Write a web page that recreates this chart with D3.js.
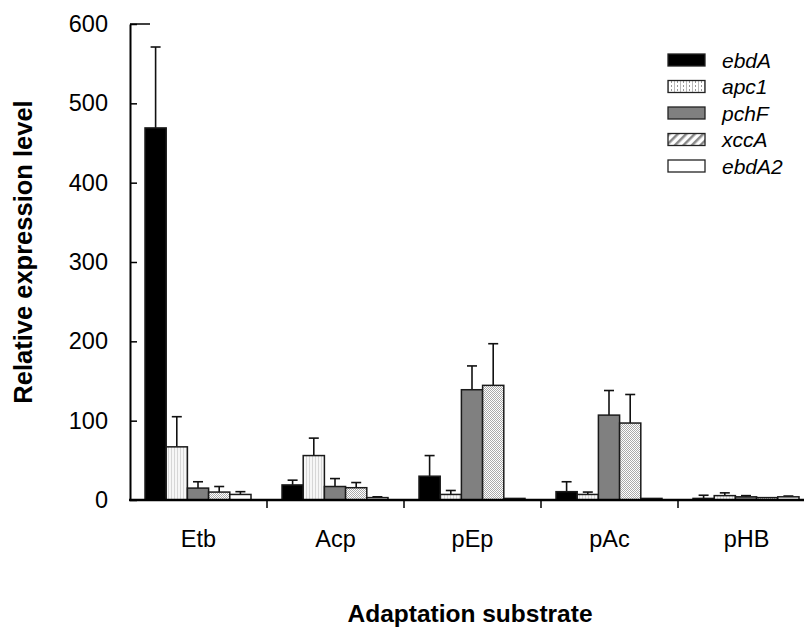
<!DOCTYPE html>
<html>
<head>
<meta charset="utf-8">
<script src="https://cdn.jsdelivr.net/npm/d3@7"></script>
<style>
  body { margin: 0; background: #fff; }
  svg { display: block; font-family: "Liberation Sans", Arial, sans-serif; }
</style>
</head>
<body>
<div id="bar_chart"></div>
<script>
var categories = ["Etb", "Acp", "pEp", "pAc", "pHB"];
var series = ["ebdA", "apc1", "pchF", "xccA", "ebdA2"];

// mean values per series, one entry per category
var ebdA  = [469, 19, 30, 10.5, 2];
var apc1  = [67, 56, 7, 7, 5.5];
var pchF  = [15, 17, 139, 107, 4];
var xccA  = [10, 15.5, 144.5, 97, 3];
var ebdA2 = [7, 3, 2, 2, 4];

// upper error (top of whisker)
var ebdAErr  = [571, 25, 56, 23, 6];
var apc1Err  = [105, 78, 12, 10, 9];
var pchFErr  = [23, 27, 169, 138, 5.5];
var xccAErr  = [17, 22, 197, 133, 3];
var ebdA2Err = [10.5, 4, 2, 2, 5];

var yTicks = [0, 100, 200, 300, 400, 500, 600];

document.addEventListener('DOMContentLoaded', function() {
    generateBarChart()
}, false);

function generateBarChart() {
    var width = 804, height = 628;
    var values = [ebdA, apc1, pchF, xccA, ebdA2];
    var errs = [ebdAErr, apc1Err, pchFErr, xccAErr, ebdA2Err];

    var data = [];
    categories.forEach(function(c, i) {
        series.forEach(function(s, j) {
            data.push({cat: c, key: s, value: values[j][i], err: errs[j][i]});
        });
    });

    var svg = d3.select("#bar_chart")
      .append("svg")
        .attr("width", width)
        .attr("height", height);

    // patterns
    var defs = svg.append("defs");
    var p1 = defs.append("pattern").attr("id", "vlines")
        .attr("patternUnits", "userSpaceOnUse").attr("width", 3).attr("height", 3);
    p1.append("rect").attr("width", 3).attr("height", 3).attr("fill", "#f6f6f6");
    p1.append("rect").attr("width", 1).attr("height", 3).attr("fill", "#d6d6d6");

    var p2 = defs.append("pattern").attr("id", "checker")
        .attr("patternUnits", "userSpaceOnUse").attr("width", 2).attr("height", 2);
    p2.append("rect").attr("width", 2).attr("height", 2).attr("fill", "#ffffff");
    p2.append("rect").attr("width", 1).attr("height", 1).attr("fill", "#aaaaaa");
    p2.append("rect").attr("x", 1).attr("y", 1).attr("width", 1).attr("height", 1).attr("fill", "#aaaaaa");

    var p3 = defs.append("pattern").attr("id", "dots")
        .attr("patternUnits", "userSpaceOnUse").attr("width", 6).attr("height", 4);
    p3.append("rect").attr("width", 6).attr("height", 4).attr("fill", "#ffffff");
    p3.append("rect").attr("x", 0).attr("width", 1).attr("height", 4).attr("fill", "#bbbbbb");
    p3.append("rect").attr("x", 3).attr("y", 1).attr("width", 1).attr("height", 1).attr("fill", "#333");

    var p4 = defs.append("pattern").attr("id", "hatch")
        .attr("patternUnits", "userSpaceOnUse").attr("width", 6).attr("height", 6)
        .attr("patternTransform", "rotate(45)");
    p4.append("rect").attr("width", 6).attr("height", 6).attr("fill", "#ffffff");
    p4.append("rect").attr("width", 2.5).attr("height", 6).attr("fill", "#888888");

    var barFill = {ebdA: "#000000", apc1: "url(#vlines)", pchF: "#808080", xccA: "url(#checker)", ebdA2: "#ffffff"};
    var legendFill = {ebdA: "#000000", apc1: "url(#dots)", pchF: "#808080", xccA: "url(#hatch)", ebdA2: "#ffffff"};

    // scales
    var x0 = d3.scaleBand().domain(categories).range([130, 815]);
    var x1 = d3.scaleBand().domain(series).range([15, 121]);
    var y = d3.scaleLinear().domain([0, 600]).range([500, 24]);

    // error bars (upper only)
    var eb = svg.append("g").selectAll("g.err")
      .data(data.filter(function(d) { return d.err > d.value; }))
      .enter().append("g")
        .attr("stroke", "#111").attr("stroke-width", 1.6);
    eb.append("line")
        .attr("x1", function(d) { return x0(d.cat) + x1(d.key) + x1.bandwidth() / 2; })
        .attr("x2", function(d) { return x0(d.cat) + x1(d.key) + x1.bandwidth() / 2; })
        .attr("y1", function(d) { return y(d.value); })
        .attr("y2", function(d) { return y(d.err); });
    eb.append("line")
        .attr("x1", function(d) { return x0(d.cat) + x1(d.key) + x1.bandwidth() / 2 - 5; })
        .attr("x2", function(d) { return x0(d.cat) + x1(d.key) + x1.bandwidth() / 2 + 5; })
        .attr("y1", function(d) { return y(d.err); })
        .attr("y2", function(d) { return y(d.err); });

    // bars
    svg.append("g").selectAll("rect")
      .data(data)
      .enter()
      .append("rect")
        .attr("x", function(d) { return x0(d.cat) + x1(d.key); })
        .attr("y", function(d) { return y(d.value); })
        .attr("width", x1.bandwidth())
        .attr("height", function(d) { return y(0) - y(d.value); })
        .attr("fill", function(d) { return barFill[d.key]; })
        .attr("stroke", "#1a1a1a")
        .attr("stroke-width", 1.5);

    // y axis, ticks pointing inward
    var yAxis = svg.append("g")
      .attr("transform", "translate(130,0)")
      .call(d3.axisLeft(y).tickValues(yTicks).tickSizeInner(-7).tickSizeOuter(0).tickPadding(22));
    yAxis.select(".domain").attr("stroke", "#000").attr("stroke-width", 2);
    yAxis.selectAll(".tick line").attr("stroke", "#000").attr("stroke-width", 1.5);
    yAxis.selectAll(".tick text")
      .style("font-family", "'Liberation Sans', Arial, sans-serif")
      .style("font-size", "23.5px").attr("fill", "#000");
    svg.append("line")
      .attr("x1", 130).attr("x2", 150).attr("y1", y(600)).attr("y2", y(600))
      .attr("stroke", "#000").attr("stroke-width", 1.5);

    // x axis: ticks at category boundaries, labels at band centres
    svg.append("line")
      .attr("x1", 129).attr("x2", 815).attr("y1", y(0)).attr("y2", y(0))
      .attr("stroke", "#000").attr("stroke-width", 2.5);
    svg.append("g").selectAll("line")
      .data(categories)
      .enter().append("line")
        .attr("x1", function(d) { return x0(d) + x0.bandwidth(); })
        .attr("x2", function(d) { return x0(d) + x0.bandwidth(); })
        .attr("y1", y(0)).attr("y2", y(0) + 8)
        .attr("stroke", "#000").attr("stroke-width", 1.5);
    svg.append("g").selectAll("text")
      .data(categories)
      .enter().append("text")
        .attr("x", function(d) { return x0(d) + x0.bandwidth() / 2; })
        .attr("y", 547)
        .attr("text-anchor", "middle")
        .style("font-size", "23.5px")
        .text(function(d) { return d; });

    // axis titles
    svg.append("text")
      .attr("x", 470)
      .attr("y", 622)
      .attr("text-anchor", "middle")
      .style("font-size", "24.5px")
      .style("font-weight", "bold")
      .text("Adaptation substrate");
    svg.append("text")
      .attr("transform", "translate(32,252)rotate(-90)")
      .attr("text-anchor", "middle")
      .style("font-size", "25.5px")
      .style("font-weight", "bold")
      .text("Relative expression level");

    // legend
    var legend = svg.append("g").selectAll("g")
      .data(series)
      .enter().append("g")
        .attr("transform", function(d, i) { return "translate(668," + (54 + i * 26.5) + ")"; });
    legend.append("rect")
      .attr("width", 37).attr("height", 12)
      .attr("fill", function(d) { return legendFill[d]; })
      .attr("stroke", "#222").attr("stroke-width", 1.3);
    legend.append("text")
      .attr("x", 54).attr("y", 13.5)
      .style("font-size", "21px")
      .style("font-style", "italic")
      .text(function(d) { return d; });
}
</script>
</body>
</html>
